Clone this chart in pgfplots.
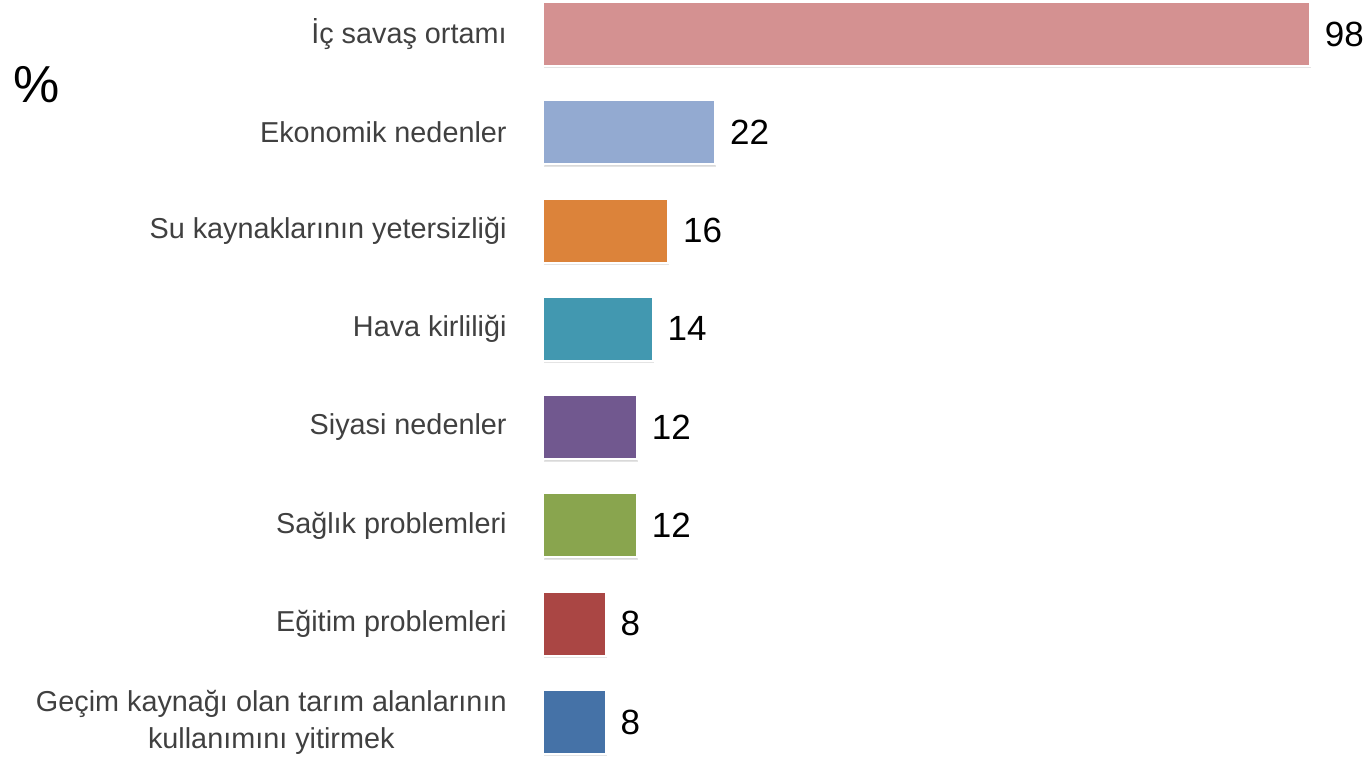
\documentclass[border=0pt]{standalone}
\usepackage{fontspec}
\setmainfont{Liberation Sans}
\usepackage{pgfplots}
\pgfplotsset{compat=1.18}
\usetikzlibrary{shadows}
\definecolor{c1}{RGB}{212,145,145}
\definecolor{c2}{RGB}{147,170,209}
\definecolor{c3}{RGB}{220,131,58}
\definecolor{c4}{RGB}{66,152,176}
\definecolor{c5}{RGB}{113,88,143}
\definecolor{c6}{RGB}{137,165,78}
\definecolor{c7}{RGB}{170,70,68}
\definecolor{c8}{RGB}{69,114,167}
\definecolor{lbl}{RGB}{64,64,64}
\tikzset{barsty/.style={draw=white, line width=1pt,
  drop shadow={shadow xshift=0.5pt, shadow yshift=-1.2pt, opacity=0.3, fill=gray}}}
\begin{document}
\begin{tikzpicture}[x=1pt,y=1pt]
\path[use as bounding box] (0,0) rectangle (682.5,383.5);
\node[font=\fontsize{26}{26}\selectfont, inner sep=0pt] at (18.5,341) {\%};
\begin{axis}[at={(271.5pt,22.5pt)}, anchor=south west,
  scale only axis, width=383.5pt, height=344pt,
  xmin=0, xmax=98, ymin=0, ymax=7, y dir=reverse,
  xbar, bar shift=0pt, bar width=32pt, clip=false,
  axis line style={draw=none}, major tick length=0pt,
  xtick=\empty, ytick={0,...,7},
  yticklabels={İç savaş ortamı, Ekonomik nedenler, Su kaynaklarının yetersizliği, Hava kirliliği, Siyasi nedenler, Sağlık problemleri, Eğitim problemleri, {Geçim kaynağı olan tarım alanlarının\\kullanımını yitirmek}},
  yticklabel style={align=center, inner sep=0pt, xshift=-18pt, text=lbl,
    font=\fontsize{14.4pt}{18.5pt}\selectfont},
  point meta=x, nodes near coords,
  /pgf/number format/assume math mode=true,
  nodes near coords style={anchor=west, inner sep=0pt, xshift=7pt, text=black,
    font=\fontsize{17.5pt}{17.5pt}\selectfont},
]
\addplot[barsty, fill=c1] coordinates {(98,0)};
\addplot[barsty, fill=c2] coordinates {(22,1)};
\addplot[barsty, fill=c3] coordinates {(16,2)};
\addplot[barsty, fill=c4] coordinates {(14,3)};
\addplot[barsty, fill=c5] coordinates {(12,4)};
\addplot[barsty, fill=c6] coordinates {(12,5)};
\addplot[barsty, fill=c7] coordinates {(8,6)};
\addplot[barsty, fill=c8] coordinates {(8,7)};
\end{axis}
\end{tikzpicture}
\end{document}
